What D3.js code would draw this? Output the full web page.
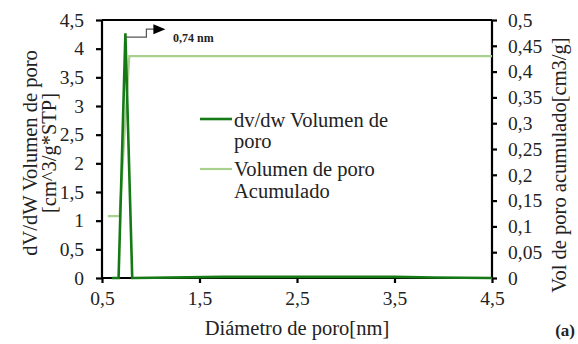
<!DOCTYPE html>
<html><head><meta charset="utf-8">
<script src="https://cdn.jsdelivr.net/npm/d3@7"></script>
<style>body{margin:0;background:#fff}svg{display:block}text{font-family:"Liberation Serif","Times New Roman",serif;fill:#222}</style>
</head><body><svg id="c" width="578" height="344"></svg>
<script>
const diamX = [0.6, 0.67, 0.74, 0.81, 1.75, 2.0, 3.5, 3.9, 4.5];
const dvdw = [0, 0, 4.27, 0, 0.02, 0.02, 0.02, 0.01, 0];
const cumX = [0.56, 0.68, 0.78, 4.5];
const cumVol = [0.12, 0.12, 0.43, 0.43];
const xTicks = [0.5, 1.5, 2.5, 3.5, 4.5];
const yLeftTicks = [0, 0.5, 1, 1.5, 2, 2.5, 3, 3.5, 4, 4.5];
const yRightTicks = [0, 0.05, 0.1, 0.15, 0.2, 0.25, 0.3, 0.35, 0.4, 0.45, 0.5];
const seriesNames = [["dv/dw Volumen de", "poro"], ["Volumen de poro", "Acumulado"]];
const peakLabel = "0,74 nm";

const svg = d3.select("#c");
const L = 102, R = 492, T = 20, B = 278;
const x = d3.scaleLinear().domain([0.5, 4.5]).range([L, R]);
const yL = d3.scaleLinear().domain([0, 4.5]).range([B, T]);
const yR = d3.scaleLinear().domain([0, 0.5]).range([B, T]);
const fmt = d => String(d).replace(".", ",");
const dark = "#157a15", light = "#a9d18e";

// axes
const ax = svg.append("g").attr("transform", `translate(0,${B})`)
  .call(d3.axisBottom(x).tickValues(xTicks).tickFormat(fmt).tickSize(5).tickPadding(8));
const ayl = svg.append("g").attr("transform", `translate(${L},0)`)
  .call(d3.axisLeft(yL).tickValues(yLeftTicks).tickFormat(fmt).tickSize(6).tickPadding(12));
const ayr = svg.append("g").attr("transform", `translate(${R},0)`)
  .call(d3.axisRight(yR).tickValues(yRightTicks).tickFormat(fmt).tickSize(5).tickPadding(11));
[ax, ayl, ayr].forEach(g => {
  g.attr("font-family", null);
  g.select(".domain").attr("stroke", "#000").attr("stroke-width", 2.2);
  g.selectAll(".tick line").attr("stroke", "#000").attr("stroke-width", 2.2);
  g.selectAll(".tick text").attr("font-size", 19.5).attr("fill", "#222");
});
ax.select(".domain").attr("d", `M${L},0H${R}`);
ayl.select(".domain").attr("d", `M0,${B}V${T}`);
ayr.select(".domain").attr("d", `M0,${B}V${T}`);
svg.append("line").attr("x1", L).attr("x2", R).attr("y1", T).attr("y2", T).attr("stroke", "#000").attr("stroke-width", 2.2);

// series
const lineL = d3.line().x((d, i) => x(diamX[i])).y(d => yL(d));
const lineR = d3.line().x((d, i) => x(cumX[i])).y(d => yR(d));
svg.append("path").attr("d", lineR(cumVol)).attr("fill", "none").attr("stroke", light).attr("stroke-width", 2.2);
svg.append("path").attr("d", lineL(dvdw)).attr("fill", "none").attr("stroke", dark).attr("stroke-width", 2.6);

// annotation
const px = x(0.74), py = yL(4.27) + 4;
svg.append("path").attr("d", `M${px},${py}H${px + 21}V${py - 8}H${px + 30}`).attr("fill", "none").attr("stroke", "#555").attr("stroke-width", 1.2);
svg.append("path").attr("d", `M${px + 28},${py - 13}L${px + 40},${py - 8}L${px + 28},${py - 3}Z`).attr("fill", "#000");
svg.append("text").attr("x", 173).attr("y", 42).attr("font-size", 12).attr("font-weight", "bold").text(peakLabel);

// legend
const leg = [{c: dark, y: 119, w: 2.6, lines: seriesNames[0], base: [127, 148]},
             {c: light, y: 169, w: 2.2, lines: seriesNames[1], base: [176, 198]}];
leg.forEach(l => {
  svg.append("line").attr("x1", 200).attr("x2", 232).attr("y1", l.y).attr("y2", l.y).attr("stroke", l.c).attr("stroke-width", l.w);
  l.lines.forEach((t, i) => svg.append("text").attr("x", 234).attr("y", l.base[i]).attr("font-size", 20.5).text(t));
});

// axis titles
svg.append("text").attr("x", L + (R - L) / 2).attr("y", 335).attr("text-anchor", "middle").attr("font-size", 20.5).text("Diámetro de poro[nm]");
const lt = svg.append("text").attr("transform", "translate(37,153) rotate(-90)").attr("text-anchor", "middle").attr("font-size", 20.5);
lt.append("tspan").attr("x", 0).attr("y", 0).text("dV/dW Volumen de poro");
lt.append("tspan").attr("x", 0).attr("y", 19).text("[cm^3/g*STP]");
svg.append("text").attr("transform", "translate(566,165) rotate(-90)").attr("text-anchor", "middle").attr("font-size", 20.5).text("Vol de poro acumulado[cm3/g]");
svg.append("text").attr("x", 575).attr("y", 336).attr("text-anchor", "end").attr("font-size", 17).attr("font-weight", "bold").text("(a)");
</script></body></html>
